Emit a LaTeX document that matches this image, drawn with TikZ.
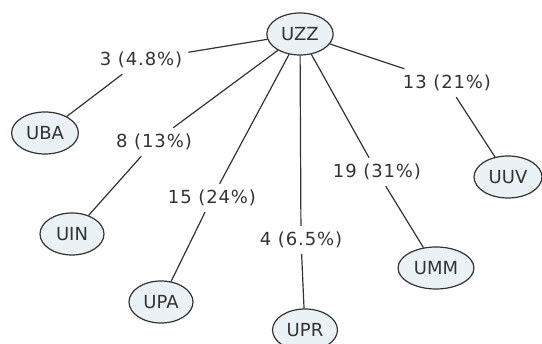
\documentclass[tikz,border=0pt]{standalone}
\usepackage{fontspec}
\setmainfont{DejaVu Sans}
\newfontfamily\labfont[LetterSpace=5]{DejaVu Sans}
\usetikzlibrary{shapes.geometric}
\definecolor{nodefill}{HTML}{EAF2F5}
\definecolor{ink}{HTML}{333333}
\begin{document}
\begin{tikzpicture}[x=1pt,y=-1pt,
  every node/.style={text=ink},
  vert/.style={ellipse,draw=ink,fill=nodefill,line width=1.2pt,
    inner xsep=4.7pt,inner ysep=0pt,minimum width=64pt,minimum height=42pt,
    font=\fontsize{18}{20}\selectfont},
  lab/.style={inner sep=6pt,font=\labfont\fontsize{18}{20}\selectfont},
  edge/.style={draw=ink,line width=1.2pt}]
\useasboundingbox (0,0) rectangle (542,344);
\node[vert] (UZZ) at (300,34) {UZZ};
\node[vert] (UBA) at (45,133) {UBA};
\node[vert] (UIN) at (72,234) {UIN};
\node[vert] (UPA) at (161,302) {UPA};
\node[vert] (UPR) at (305,330) {UPR};
\node[vert] (UMM) at (436,268) {UMM};
\node[vert] (UUV) at (508,177) {UUV};
\node[lab] (l1) at (141,60) {3 (4.8\%)};
\node[lab] (l2) at (154,142) {8 (13\%)};
\node[lab] (l3) at (212,198) {15 (24\%)};
\node[lab] (l4) at (301,240) {4 (6.5\%)};
\node[lab] (l5) at (377,172) {19 (31\%)};
\node[lab] (l6) at (447,83) {13 (21\%)};
\draw[edge] (UZZ) -- (l1) (l1) -- (UBA);
\draw[edge] (UZZ) -- (l2) (l2) -- (UIN);
\draw[edge] (UZZ) -- (l3) (l3) -- (UPA);
\draw[edge] (UZZ) -- (l4) (l4) -- (UPR);
\draw[edge] (UZZ) -- (l5) (l5) -- (UMM);
\draw[edge] (UZZ) -- (l6) (l6) -- (UUV);
\end{tikzpicture}
\end{document}
